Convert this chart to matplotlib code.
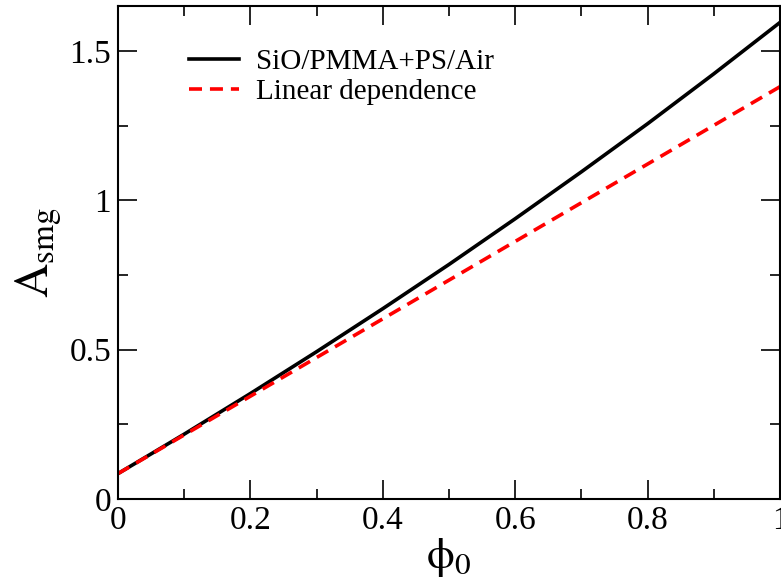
import numpy as np
import matplotlib
matplotlib.use('Agg')
import matplotlib.pyplot as plt
from matplotlib.ticker import MultipleLocator

plt.rcParams['font.family'] = 'Liberation Serif'
plt.rcParams['mathtext.fontset'] = 'stix'

#### data ####
phi0 = [0.0, 0.1, 0.2, 0.3, 0.4, 0.5, 0.6, 0.7, 0.8, 0.9, 1.0]
a_smg = [0.085, 0.217, 0.353, 0.493, 0.637, 0.785, 0.938, 1.095, 1.256, 1.423, 1.595]
phi0_lin = [0.0, 1.0]
a_lin = [0.085, 1.38]
xticks = [0, 0.2, 0.4, 0.6, 0.8, 1.0]
xticklabels = ['0', '0.2', '0.4', '0.6', '0.8', '1']
yticks = [0, 0.5, 1.0, 1.5]
yticklabels = ['0', '0.5', '1', '1.5']

fig = plt.figure(figsize=(7.81, 5.86), dpi=100)
ax = fig.add_axes([118/781, 1 - 499/586, (780-118)/781, (499-6)/586])

ax.plot(phi0, a_smg, color='black', lw=2.6, label='SiO/PMMA+PS/Air')
ax.plot(phi0_lin, a_lin, color='red', lw=2.6, ls=(0, (3.6, 2.2)), label='Linear dependence')

ax.set_xlim(0, 1)
ax.set_ylim(0, 1.65)
ax.set_xticks(xticks)
ax.set_xticklabels(xticklabels)
ax.set_yticks(yticks)
ax.set_yticklabels(yticklabels)
ax.xaxis.set_minor_locator(MultipleLocator(0.1))
ax.yaxis.set_minor_locator(MultipleLocator(0.25))
ax.tick_params(which='both', direction='in', top=True, right=True, width=1.2, labelsize=24)
ax.tick_params(which='major', length=14, pad=5)
ax.tick_params(which='minor', length=7)
for s in ax.spines.values():
    s.set_linewidth(1.5)

ax.set_xlabel(r'$\mathrm{\phi}_\mathrm{0}$', fontsize=32, labelpad=0)
ax.set_ylabel(r'$\mathrm{A}_{\mathrm{smg}}$', fontsize=34, labelpad=4)

ax.legend(loc='upper left', bbox_to_anchor=(0.09, 0.937), frameon=False, fontsize=21,
          handlelength=1.7, handletextpad=0.6, labelspacing=0.12, borderaxespad=0)

fig.savefig('out.png', dpi=100)
